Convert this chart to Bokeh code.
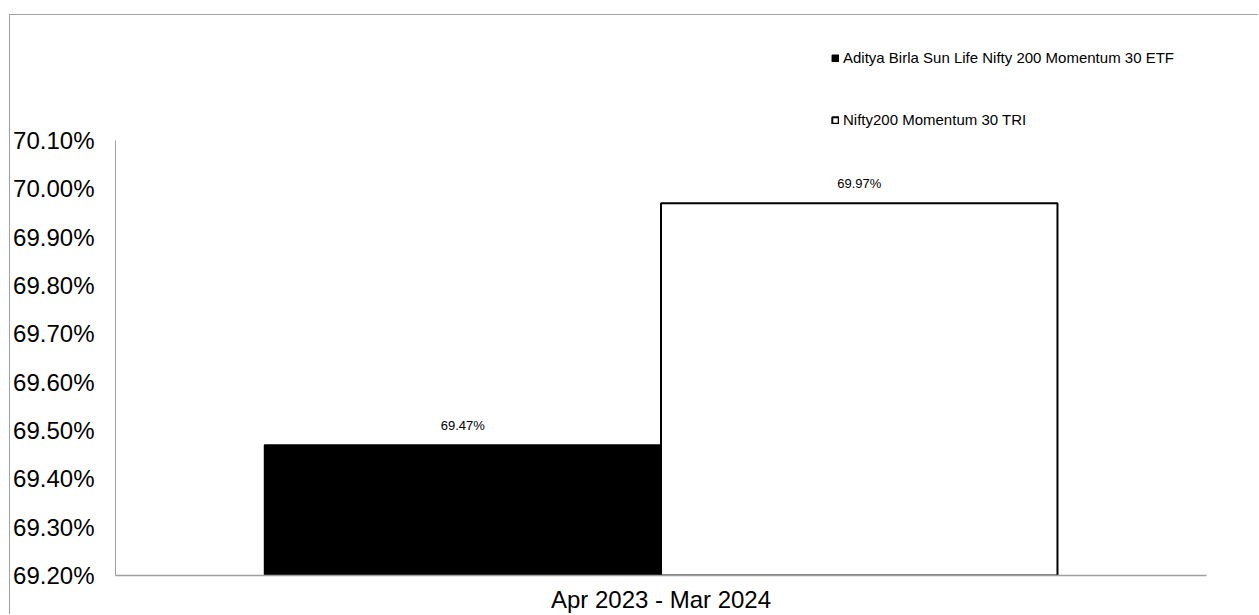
from bokeh.plotting import figure
from bokeh.models import FactorRange, Range1d, FixedTicker, PrintfTickFormatter, ColumnDataSource
from bokeh.transform import dodge
from bokeh.core.properties import value
from bokeh.embed import file_html
from bokeh.resources import INLINE

categories = ["Apr 2023 - Mar 2024"]
series_names = ["Aditya Birla Sun Life Nifty 200 Momentum 30 ETF", "Nifty200 Momentum 30 TRI"]
etf_values = [69.47]
tri_values = [69.97]
y_ticks = [69.20, 69.30, 69.40, 69.50, 69.60, 69.70, 69.80, 69.90, 70.00, 70.10]

src = ColumnDataSource(dict(
    cat=categories,
    etf=etf_values,
    tri=tri_values,
    etf_lbl=["%.2f%%" % v for v in etf_values],
    tri_lbl=["%.2f%%" % v for v in tri_values],
))

# frame extends to the top so the legend (inside the frame) is not clipped;
# y-range end chosen so 70.10% sits ~125px below the frame top
y_end = y_ticks[-1] + 125 / (435 / (y_ticks[-1] - y_ticks[0]))

p = figure(width=1249, height=600, output_backend="svg", toolbar_location=None,
           x_range=FactorRange(factors=categories, range_padding=0),
           y_range=Range1d(y_ticks[0], y_end),
           min_border_left=105, min_border_top=0, min_border_right=53, min_border_bottom=40)
p.margin = (14, 0, 0, 9)
p.styles = {"border-left": "1px solid #a0a0a0", "border-top": "1px solid #a0a0a0"}
p.background_fill_color = "white"
p.border_fill_color = "white"
p.outline_line_color = None
p.xgrid.grid_line_color = None
p.ygrid.grid_line_color = None

bw = 0.3634
p.vbar(x=dodge("cat", -bw / 2, range=p.x_range), top="etf", bottom=y_ticks[0], width=bw, source=src,
       fill_color="black", line_color="black", line_width=1.5,
       legend_label=series_names[0])
p.vbar(x=dodge("cat", bw / 2, range=p.x_range), top="tri", bottom=y_ticks[0], width=bw, source=src,
       fill_color="white", line_color="black", line_width=2,
       legend_label=series_names[1])

for col, lbl, dx in (("etf", "etf_lbl", -bw / 2), ("tri", "tri_lbl", bw / 2)):
    p.text(x=dodge("cat", dx, range=p.x_range), y=col, text=lbl, source=src,
           text_align="center", text_baseline="alphabetic", y_offset=-20,
           text_font=value("Liberation Sans"), text_font_size="13px", text_color="black")

# axes
p.yaxis.ticker = FixedTicker(ticks=y_ticks)
p.yaxis.bounds = (y_ticks[0], y_ticks[-1])
p.yaxis.formatter = PrintfTickFormatter(format="%.2f%%")
p.yaxis.major_label_text_font = "Liberation Sans"
p.yaxis.major_label_text_font_size = "24px"
p.yaxis.major_label_text_color = "black"
p.yaxis.major_label_standoff = 21
p.yaxis.major_tick_out = 0
p.yaxis.major_tick_in = 0
p.yaxis.minor_tick_out = 0
p.yaxis.minor_tick_in = 0
p.yaxis.axis_line_color = "#a0a0a0"

p.xaxis.major_label_text_font = "Liberation Sans"
p.xaxis.major_label_text_font_size = "24px"
p.xaxis.major_label_text_line_height = 1.0
p.xaxis.major_label_text_color = "black"
p.xaxis.major_label_standoff = 10
p.xaxis.major_tick_out = 0
p.xaxis.major_tick_in = 0
p.xaxis.axis_line_color = "#a0a0a0"
p.xaxis.axis_line_width = 1.5

# legend
lg = p.legend[0]
lg.location = (716, 447)
lg.orientation = "vertical"
lg.padding = 0
lg.margin = 0
lg.border_line_alpha = 0
lg.background_fill_alpha = 0
lg.glyph_width = 8
lg.glyph_height = 8
lg.label_height = 16
lg.spacing = 45
lg.label_standoff = 4
lg.label_text_font = "Liberation Sans"
lg.label_text_font_size = "15px"
lg.label_text_color = "black"

open("out.html", "w").write(file_html(p, INLINE))
